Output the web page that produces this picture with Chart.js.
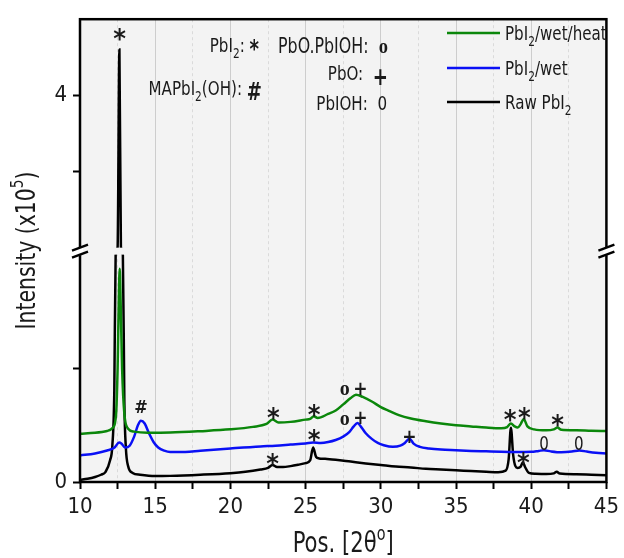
<!DOCTYPE html>
<html>
<head>
<meta charset="utf-8">
<script src="https://cdn.jsdelivr.net/npm/chart.js@4.4.0/dist/chart.umd.min.js"></script>
<style>
  body { margin: 0; background: #fff; }
  #wrap { width: 624px; height: 558px; }
</style>
</head>
<body>
<div id="wrap"><canvas id="xrd"></canvas></div>
<script>
// XRD patterns, intensity in units of 1e5 counts

// PbI2/wet/heat
const heatX = [10, 11, 11.8, 12.2, 12.4, 12.5, 12.58, 12.64, 12.7, 12.8, 12.95, 13.2, 13.6, 14.5, 16, 18, 20, 21.5, 22.4, 22.8, 23.2, 24, 25, 25.3, 25.55, 25.8, 26.5, 27, 27.5, 28, 28.35, 28.8, 29.4, 30, 30.5, 31.2, 32, 33, 34, 35, 36, 37, 38, 38.4, 38.65, 38.9, 39.1, 39.3, 39.5, 39.75, 40.2, 41, 41.5, 41.75, 42, 43, 44, 45];
const heatY = [0.213, 0.217, 0.225, 0.24, 0.3, 0.5, 0.8, 0.94, 0.8, 0.5, 0.3, 0.235, 0.222, 0.217, 0.218, 0.224, 0.232, 0.243, 0.256, 0.275, 0.262, 0.265, 0.275, 0.278, 0.29, 0.282, 0.3, 0.315, 0.342, 0.37, 0.385, 0.375, 0.355, 0.33, 0.315, 0.295, 0.28, 0.268, 0.258, 0.25, 0.245, 0.24, 0.237, 0.242, 0.258, 0.245, 0.24, 0.255, 0.278, 0.245, 0.232, 0.228, 0.232, 0.24, 0.23, 0.228, 0.226, 0.225];

// PbI2/wet
const wetX = [10, 11, 11.8, 12.3, 12.6, 12.75, 13.0, 13.3, 13.6, 13.85, 14.05, 14.3, 14.6, 14.9, 15.2, 15.6, 16, 17, 18, 20, 22, 23, 24, 25, 25.5, 26, 26.5, 27, 27.5, 27.9, 28.2, 28.45, 28.7, 29, 29.4, 29.8, 30.2, 30.8, 31.3, 31.6, 31.9, 32.2, 32.6, 33.2, 34, 35, 36, 37, 38, 39, 40, 40.5, 40.85, 41.3, 42, 42.7, 43.2, 43.7, 44.3, 45];
const wetY = [0.117, 0.126, 0.139, 0.152, 0.174, 0.17, 0.152, 0.16, 0.2, 0.25, 0.27, 0.258, 0.213, 0.175, 0.152, 0.138, 0.132, 0.132, 0.138, 0.148, 0.157, 0.16, 0.165, 0.17, 0.174, 0.172, 0.176, 0.185, 0.2, 0.22, 0.245, 0.26, 0.242, 0.215, 0.19, 0.172, 0.162, 0.155, 0.16, 0.172, 0.191, 0.168, 0.155, 0.148, 0.143, 0.14, 0.137, 0.135, 0.133, 0.132, 0.133, 0.137, 0.14, 0.135, 0.131, 0.134, 0.139, 0.134, 0.129, 0.126];

// Raw PbI2
const rawX = [10, 10.5, 11, 11.4, 11.7, 12.0, 12.15, 12.28, 12.37, 12.5, 12.62, 12.72, 12.85, 12.95, 13.05, 13.2, 13.5, 14, 15, 16, 18, 20, 21, 22, 22.5, 22.8, 23.1, 23.5, 24, 24.5, 25, 25.3, 25.5, 25.7, 25.9, 26.3, 27, 28, 29, 30, 31, 32, 33, 34, 35, 36, 37, 37.8, 38.3, 38.5, 38.65, 38.8, 38.95, 39.1, 39.3, 39.45, 39.6, 39.85, 40.3, 41, 41.5, 41.7, 41.9, 43, 44, 45];
const rawY = [0.009, 0.014, 0.022, 0.032, 0.045, 0.096, 0.16, 0.4, 1.0, 3.0, 4.3, 3.0, 1.0, 0.35, 0.15, 0.07, 0.04, 0.032, 0.026, 0.027, 0.032, 0.039, 0.045, 0.055, 0.062, 0.075, 0.066, 0.066, 0.07, 0.076, 0.083, 0.095, 0.152, 0.11, 0.104, 0.102, 0.098, 0.09, 0.082, 0.075, 0.068, 0.064, 0.058, 0.055, 0.052, 0.048, 0.045, 0.043, 0.05, 0.1, 0.239, 0.12, 0.07, 0.062, 0.068, 0.087, 0.065, 0.04, 0.036, 0.035, 0.038, 0.045, 0.037, 0.034, 0.032, 0.03];

// phase markers over the peaks: [2theta, intensity, symbol]
const peakMarks = [
    [12.64, 4.40, '*'],
    [22.85, 0.304, '*'], [25.56, 0.313, '*'], [27.6, 0.404, 'o'], [28.65, 0.413, '+'],
    [38.6, 0.291, '*'], [39.55, 0.300, '*'], [41.75, 0.27, '*'],
    [14.05, 0.335, '#'], [25.56, 0.204, '*'], [27.6, 0.274, 'o'], [28.65, 0.283, '+'],
    [31.9, 0.200, '+'], [40.85, 0.174, '0'], [43.16, 0.174, '0'],
    [22.8, 0.100, '*'], [39.47, 0.104, '*']
];

const xTicks = [10, 15, 20, 25, 30, 35, 40, 45];
const yTicks = [0, 0.5, 3.5, 4];
const yTickLabels = ['0', '', '', '4'];

const seriesNames = ['PbI2/wet/heat', 'PbI2/wet', 'Raw PbI2'];
const seriesColors = ['#0b870b', '#0a10f5', '#000000'];

// broken y axis: 0..1 below the break, 3..4.5 above it (compressed)
const LOW_TOP = 1.0;
const HIGH_BOTTOM = 3.0;
const HIGH_TOP = 4.5;
const GAP = 0.035;
const HIGH_RATIO = 0.67;

function toAxis(v) {
    if (v <= LOW_TOP) return v;
    if (v >= HIGH_BOTTOM) return LOW_TOP + GAP + (v - HIGH_BOTTOM) * HIGH_RATIO;
    return LOW_TOP + (v - LOW_TOP) / (HIGH_BOTTOM - LOW_TOP) * GAP;
}

const FONT = '"Liberation Sans Narrow", "DejaVu Sans Condensed", sans-serif';
const TEXT = '#1a1a1a';
const PLOT_BG = '#f3f3f3';
const NARROW = 0.84;   // squeeze for the hand-drawn labels

function pairs(xs, ys) {
    return xs.map((x, i) => ({ x: x, y: toAxis(ys[i]) }));
}

// text with sub/superscripts, parts = [[text, style], ...]
function partFont(style, size) {
    if (style === 'sub' || style === 'sup') return Math.round(size * 0.68) + 'px ' + FONT;
    if (style === 'sym') return 'bold ' + Math.round(size * 1.2) + 'px ' + FONT;
    if (style === 'serif') return 'bold ' + Math.round(size * 1.05) + 'px "Liberation Serif", serif';
    return size + 'px ' + FONT;
}

function richWidth(ctx, parts, size) {
    let w = 0;
    parts.forEach(([t, s]) => {
        ctx.font = partFont(s, size);
        w += ctx.measureText(t).width;
    });
    return w * NARROW;
}

// align: 'left' starts at x, 'right' ends at x, 'center' centres on x
function drawRich(ctx, x, y, parts, size, align) {
    const w = richWidth(ctx, parts, size);
    let start = x;
    if (align === 'right') start = x - w;
    if (align === 'center') start = x - w / 2;
    ctx.save();
    ctx.translate(start, y + size * 0.36);
    ctx.scale(NARROW, 1);
    ctx.textAlign = 'left';
    ctx.textBaseline = 'alphabetic';
    let cx = 0;
    parts.forEach(([t, s]) => {
        ctx.font = partFont(s, size);
        let dy = 0;
        if (s === 'sub') dy = size * 0.28;
        if (s === 'sup') dy = -size * 0.42;
        if (s === 'sym') dy = size * 0.22;
        ctx.fillText(t, cx, dy);
        cx += ctx.measureText(t).width;
    });
    ctx.restore();
}

// draw a glyph with its visible centre at (x, y)
function drawCentered(ctx, t, x, y, font) {
    ctx.save();
    ctx.font = font;
    ctx.textAlign = 'center';
    ctx.textBaseline = 'alphabetic';
    const m = ctx.measureText(t);
    ctx.translate(x, y + (m.actualBoundingBoxAscent - m.actualBoundingBoxDescent) / 2);
    if (t === '0') ctx.scale(NARROW, 1);
    ctx.fillText(t, 0, 0);
    ctx.restore();
}

const decorPlugin = {
    id: 'decor',
    beforeDraw(chart) {
        const a = chart.chartArea;
        const ctx = chart.ctx;
        ctx.save();
        ctx.fillStyle = PLOT_BG;
        ctx.fillRect(a.left, a.top, a.right - a.left, a.bottom - a.top);
        ctx.restore();
    },
    afterDatasetsDraw(chart) {
        const ctx = chart.ctx;
        const xs = chart.scales.x;
        const ys = chart.scales.y;
        // open the break band where the tall peak crosses it
        const yA = ys.getPixelForValue(toAxis(HIGH_BOTTOM));
        const yB = ys.getPixelForValue(toAxis(LOW_TOP));
        ctx.save();
        ctx.fillStyle = PLOT_BG;
        const x0 = xs.getPixelForValue(12.0);
        const x1 = xs.getPixelForValue(13.3);
        ctx.fillRect(x0, yA + 0.5, x1 - x0, yB - yA - 1);

        // peak symbols
        ctx.fillStyle = TEXT;
        peakMarks.forEach(([px, pv, sym]) => {
            const x = xs.getPixelForValue(px);
            const y = ys.getPixelForValue(toAxis(pv));
            let font = 'bold 27px ' + FONT;
            if (sym === '+') font = 'bold 19px ' + FONT;
            if (sym === '#') font = 'bold 18px ' + FONT;
            if (sym === 'o') font = 'bold 20px "Liberation Serif", serif';
            if (sym === '0') font = '20px ' + FONT;
            drawCentered(ctx, sym, x, y, font);
        });
        ctx.restore();
    },
    afterDraw(chart) {
        const a = chart.chartArea;
        const ctx = chart.ctx;
        const ys = chart.scales.y;
        ctx.save();

        // frame
        ctx.strokeStyle = '#000';
        ctx.lineWidth = 2.5;
        ctx.strokeRect(a.left, a.top, a.right - a.left, a.bottom - a.top);

        // break marks on both vertical axes
        const yBreak = (ys.getPixelForValue(toAxis(HIGH_BOTTOM)) + ys.getPixelForValue(toAxis(LOW_TOP))) / 2;
        [a.left, a.right].forEach(ax => {
            ctx.fillStyle = '#fff';
            ctx.fillRect(ax - 3, yBreak - 4, 6, 8);
            ctx.strokeStyle = '#000';
            ctx.lineWidth = 2.4;
            ctx.beginPath();
            ctx.moveTo(ax - 8, yBreak - 0.5);
            ctx.lineTo(ax + 8, yBreak - 6.5);
            ctx.moveTo(ax - 8, yBreak + 6.5);
            ctx.lineTo(ax + 8, yBreak + 0.5);
            ctx.stroke();
        });

        // phase key
        ctx.fillStyle = TEXT;
        drawRich(ctx, 259, 45, [['PbI', ''], ['2', 'sub'], [': ', ''], ['*', 'sym']], 20, 'right');
        drawRich(ctx, 262, 88, [['MAPbI', ''], ['2', 'sub'], ['(OH): ', ''], ['#', 'sym']], 20, 'right');
        drawRich(ctx, 278, 45, [['PbO.PbIOH:  ', ''], ['o', 'serif']], 21, 'left');
        drawRich(ctx, 388, 73, [['PbO:  ', ''], ['+', 'sym']], 20, 'right');
        drawRich(ctx, 387, 103, [['PbIOH:  0', '']], 20, 'right');

        // legend
        const legendY = [33, 68, 102];
        const legendParts = [
            [['PbI', ''], ['2', 'sub'], ['/wet/heat', '']],
            [['PbI', ''], ['2', 'sub'], ['/wet', '']],
            [['Raw PbI', ''], ['2', 'sub']]
        ];
        legendY.forEach((ly, i) => {
            ctx.strokeStyle = seriesColors[i];
            ctx.lineWidth = 2.5;
            ctx.beginPath();
            ctx.moveTo(447, ly);
            ctx.lineTo(500, ly);
            ctx.stroke();
            ctx.fillStyle = TEXT;
            drawRich(ctx, 505, ly, legendParts[i], 20, 'left');
        });

        // axis titles
        const xt = [['Pos. [2\u03B8', ''], ['o', 'sup'], [']', '']];
        drawRich(ctx, (a.left + a.right) / 2, 542, xt, 28, 'center');

        const yt = [['Intensity (x10', ''], ['5', 'sup'], [')', '']];
        ctx.translate(25, (a.top + a.bottom) / 2);
        ctx.rotate(-Math.PI / 2);
        drawRich(ctx, 0, 0, yt, 27, 'center');
        ctx.restore();
    }
};

function makeDataset(i, xs, ys) {
    return {
        label: seriesNames[i],
        data: pairs(xs, ys),
        borderColor: seriesColors[i],
        borderWidth: 2.5,
        pointRadius: 0,
        fill: false,
        cubicInterpolationMode: 'monotone'
    };
}

function createChart() {
    const ctx = document.getElementById('xrd').getContext('2d');
    new Chart(ctx, {
        type: 'line',
        data: {
            datasets: [
                makeDataset(0, heatX, heatY),
                makeDataset(1, wetX, wetY),
                makeDataset(2, rawX, rawY)
            ]
        },
        options: {
            responsive: true,
            maintainAspectRatio: false,
            animation: false,
            layout: { padding: { left: 0, top: 13, right: 13, bottom: 0 } },
            plugins: {
                legend: { display: false },
                tooltip: { enabled: false }
            },
            scales: {
                x: {
                    type: 'linear',
                    min: 10,
                    max: 45,
                    afterFit: scale => { scale.height = 76; },
                    border: {
                        display: false,
                        dash: c => (c.tick && c.tick.value % 5 === 0 ? [] : [3, 3])
                    },
                    grid: {
                        color: c => (c.tick && c.tick.value % 5 === 0 ? '#cdcdcd' : '#dadada'),
                        lineWidth: 1,
                        tickColor: '#000',
                        tickWidth: 2,
                        tickLength: 7
                    },
                    ticks: {
                        stepSize: 2.5,
                        autoSkip: false,
                        maxRotation: 0,
                        padding: 5,
                        color: TEXT,
                        font: { family: FONT, size: 22 },
                        callback: v => (xTicks.includes(v) ? String(v) : '')
                    }
                },
                y: {
                    type: 'linear',
                    min: 0,
                    max: toAxis(HIGH_TOP),
                    afterFit: scale => { scale.width = 80; },
                    afterBuildTicks: scale => {
                        scale.ticks = yTicks.map(v => ({ value: toAxis(v) }));
                    },
                    border: { display: false },
                    grid: {
                        drawOnChartArea: false,
                        tickColor: '#000',
                        tickWidth: 2,
                        tickLength: 7
                    },
                    ticks: {
                        autoSkip: false,
                        padding: 6,
                        color: TEXT,
                        font: { family: FONT, size: 22 },
                        callback: (v, i) => yTickLabels[i]
                    }
                }
            }
        },
        plugins: [decorPlugin]
    });
}

document.addEventListener('DOMContentLoaded', createChart);
</script>
</body>
</html>
